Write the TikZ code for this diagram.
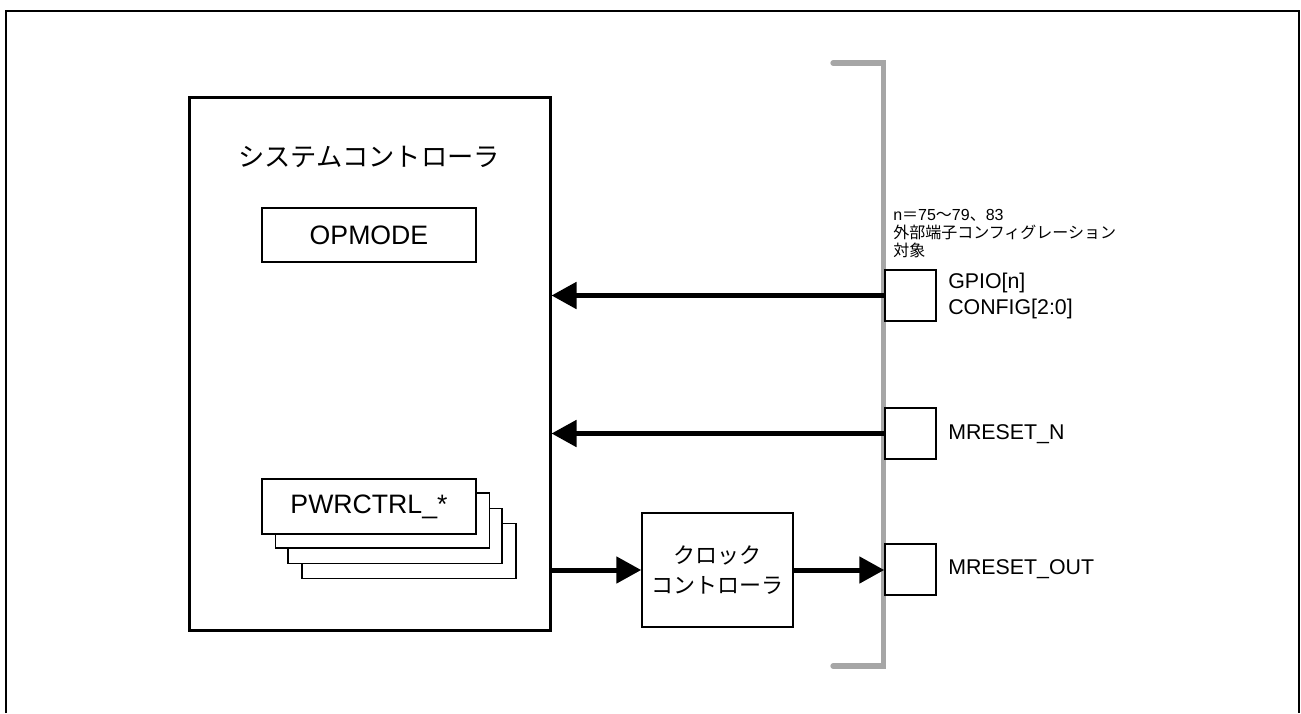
\documentclass[tikz,border=0pt]{standalone}
\usepackage{fontspec}
\setmainfont{Liberation Sans}
\newfontfamily\jp{Noto Sans CJK JP}
\usetikzlibrary{arrows.meta}
\definecolor{bargray}{HTML}{A6A6A6}
\tikzset{
  thinbox/.style={draw=black, line width=1.1pt, fill=white, rectangle, inner sep=0pt},
  mainbox/.style={draw=black, line width=2.25pt, rectangle, inner sep=0pt},
  bigarrow/.style={line width=3.75pt, -{Triangle[length=18.75pt,width=19.5pt]}},
  portlabel/.style={anchor=west, inner sep=0pt, font=\fontsize{16pt}{19.5pt}\selectfont, align=left},
}
\begin{document}
\begin{tikzpicture}[x=0.75pt, y=-0.75pt]
\useasboundingbox (0,0) rectangle (1301,713);
% outer frame (bottom edge out of view)
\draw[line width=1.5pt] (6,713) -- (6,11) -- (1299,11) -- (1299,713);
% gray bracket
\draw[bargray, line width=4pt, line cap=round, line join=miter] (833,63) -- (883.5,63) -- (883.5,666) -- (833,666);
% system controller
\node[mainbox, minimum width=270.75pt, minimum height=399pt] (sys) at (369.5,364) {};
\node[inner sep=0pt, font=\jp\fontsize{19.7pt}{22pt}\selectfont] (systitle) at (369,157) {システムコントローラ};
\node[thinbox, minimum width=160.5pt, minimum height=40.5pt, font=\fontsize{20pt}{22pt}\selectfont] (opmode) at (369,235) {OPMODE};
% PWRCTRL stack
\node[thinbox, minimum width=160.5pt, minimum height=41.25pt] (pwr4) at (409,551) {};
\node[thinbox, minimum width=160.5pt, minimum height=41.25pt] (pwr3) at (395,536) {};
\node[thinbox, minimum width=160.5pt, minimum height=41.25pt] (pwr2) at (382.5,520.5) {};
\node[thinbox, minimum width=160.5pt, minimum height=41.25pt, font=\fontsize{20pt}{22pt}\selectfont] (pwr) at (369,506.5) {PWRCTRL\_*};
% clock controller
\node[thinbox, minimum width=113.25pt, minimum height=85.5pt, align=center, font=\jp\fontsize{16.5pt}{22.5pt}\selectfont] (clk) at (717.5,570) {クロック\\コントローラ};
% ports
\node[thinbox, minimum width=38.25pt, minimum height=38.25pt] (gpio) at (910.5,295.5) {};
\node[thinbox, minimum width=38.25pt, minimum height=38.25pt] (mrn) at (910.5,433.5) {};
\node[thinbox, minimum width=38.25pt, minimum height=38.25pt] (mro) at (910.5,569.5) {};
% labels
\node[portlabel] (gpiolbl) at (948,296) {GPIO[n]\\CONFIG[2:0]};
\node[portlabel] (mrnlbl) at (948,434) {MRESET\_N};
\node[portlabel] (mrolbl) at (948,569.5) {MRESET\_OUT};
\node[anchor=west, inner sep=0pt, align=left, font=\fontsize{12pt}{13.5pt}\selectfont] (note) at (893,234)
  {n{\jp ＝}75{\jp ～}79{\jp 、}83\\{\jp 外部端子コンフィグレーション}\\{\jp 対象}};
% connectors
\draw[bigarrow] (gpio.west) -- (gpio.west -| sys.east);
\draw[bigarrow] (mrn.west) -- (mrn.west -| sys.east);
\draw[bigarrow] (sys.east |- clk.west) -- (clk.west);
\draw[bigarrow] (clk.east) -- (clk.east -| mro.west);
\end{tikzpicture}
\end{document}
